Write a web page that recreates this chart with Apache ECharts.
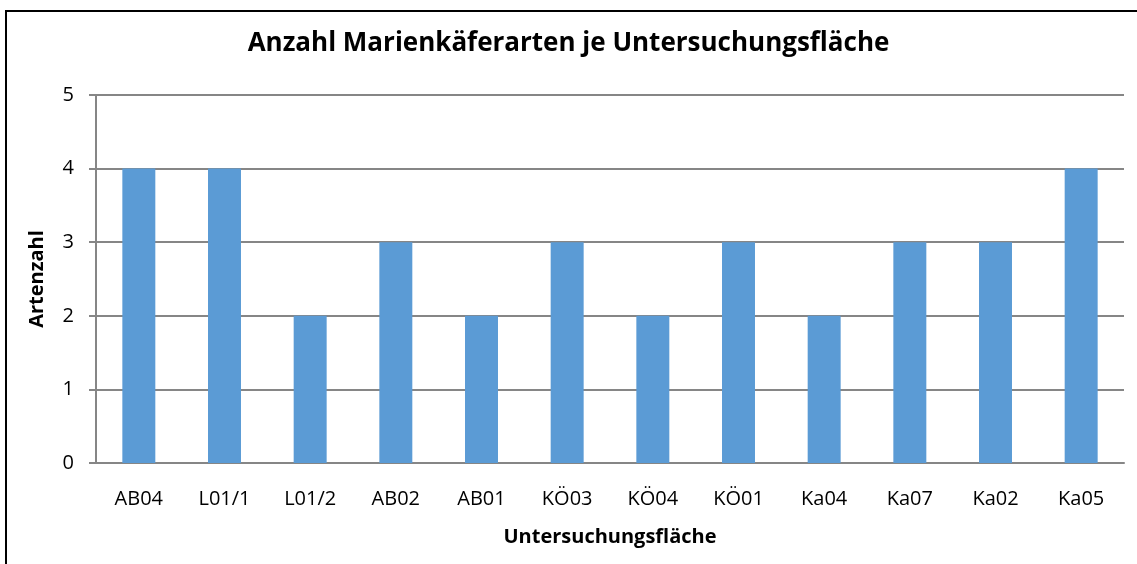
<!DOCTYPE html>
<html>
<head>
<meta charset="utf-8">
<script src="https://cdn.jsdelivr.net/npm/echarts@6/dist/echarts.min.js"></script>
<style>
  html, body { margin: 0; padding: 0; background: #fff; }
  #chart { width: 1137px; height: 564px; }
</style>
</head>
<body>
<div id="chart"></div>
<script>
const categories = ['AB04', 'L01/1', 'L01/2', 'AB02', 'AB01', 'KÖ03', 'KÖ04', 'KÖ01', 'Ka04', 'Ka07', 'Ka02', 'Ka05']
const artenzahl = [4, 4, 2, 3, 2, 3, 2, 3, 2, 3, 3, 4]
const yTicks = [0, 1, 2, 3, 4, 5]

const fontFamily = '"Open Sans", "Noto Sans", sans-serif'
const gridColor = '#868686'

const chart = echarts.init(document.getElementById('chart'))
chart.setOption({
  animation: false,
  // chart frame, runs off the right and bottom edge like in the screenshot
  graphic: [{
    type: 'rect',
    shape: { x: 6, y: 11, width: 1140, height: 560 },
    style: { fill: 'none', stroke: '#000', lineWidth: 2 }
  }],
  title: {
    text: 'Anzahl Marienkäferarten je Untersuchungsfläche',
    left: 'center',
    top: 26,
    textStyle: { fontFamily, fontSize: 26, fontWeight: 'bold', color: '#000' }
  },
  grid: { left: 96, right: 13, top: 95, bottom: 101 },
  xAxis: {
    type: 'category',
    data: categories,
    name: 'Untersuchungsfläche',
    nameLocation: 'middle',
    nameGap: 64,
    nameTextStyle: { fontFamily, fontSize: 20, fontWeight: 'bold', color: '#000' },
    axisLine: { lineStyle: { color: gridColor, width: 2 } },
    axisTick: { length: 8, lineStyle: { color: gridColor, width: 2 } },
    axisLabel: { fontFamily, fontSize: 20, color: '#000', margin: 26 }
  },
  yAxis: {
    type: 'value',
    min: 0,
    max: yTicks[yTicks.length - 1],
    interval: 1,
    name: 'Artenzahl',
    nameLocation: 'middle',
    nameGap: 49,
    nameTextStyle: { fontFamily, fontSize: 20, fontWeight: 'bold', color: '#000' },
    axisLine: { show: true, lineStyle: { color: gridColor, width: 2 } },
    axisTick: { show: true, length: 7, lineStyle: { color: gridColor, width: 2 } },
    axisLabel: { fontFamily, fontSize: 20, color: '#000', margin: 22 },
    splitLine: { lineStyle: { color: gridColor, width: 2 } }
  },
  series: [{
    type: 'bar',
    data: artenzahl,
    barWidth: '38.5%',
    itemStyle: { color: '#5B9BD5' }
  }]
})
</script>
</body>
</html>
